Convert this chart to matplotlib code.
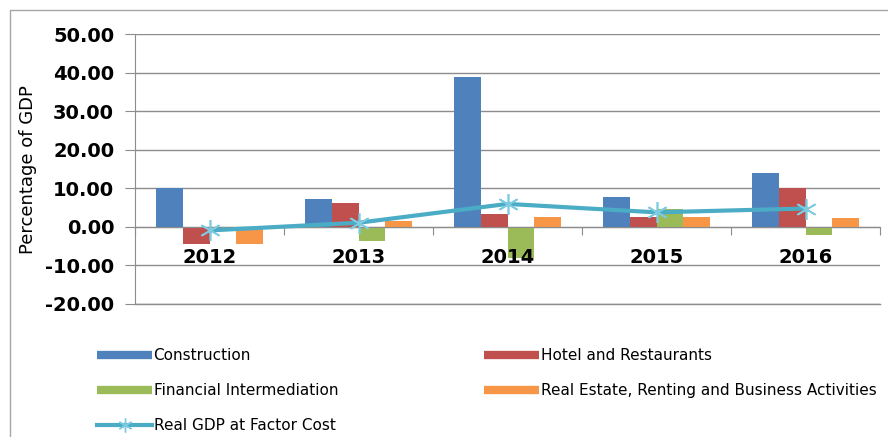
import matplotlib
matplotlib.use('Agg')
import matplotlib.pyplot as plt
from matplotlib.lines import Line2D
import numpy as np

years = ["2012", "2013", "2014", "2015", "2016"]
construction = [10.0, 7.1, 38.9, 7.8, 14.0]
hotel = [-4.5, 6.1, 3.2, 2.4, 10.0]
financial = [-1.2, -3.8, -8.2, 4.7, -2.1]
real_estate = [-4.5, 1.4, 2.4, 2.4, 2.2]
gdp = [-1.0, 1.0, 5.9, 3.7, 4.7]

series = [
    ("Construction", construction, "#4F81BD"),
    ("Hotel and Restaurants", hotel, "#C0504D"),
    ("Financial Intermediation", financial, "#9BBB59"),
    ("Real Estate, Renting and Business Activities", real_estate, "#F79646"),
]
line_color = "#4BACC6"
grid_color = "#8C8C8C"

fig = plt.figure(figsize=(8.88, 4.37), dpi=100)
ax = fig.add_axes([135/888, 1-303.5/437, 745/888, (303.5-34.3)/437])

x = np.arange(len(years))
w = 0.181
for i, (name, vals, col) in enumerate(series):
    ax.bar(x + (i - 1.5) * w, vals, w, color=col, zorder=2)

ax.plot(x, gdp, color=line_color, lw=3, marker=(6, 2, 0), markersize=15,
        markeredgewidth=1.2, markeredgecolor="#7CCBE0", zorder=3)

ax.set_ylim(-20, 50)
ax.set_xlim(-0.5, 4.5)
ax.set_yticks(np.arange(-20, 51, 10))
ax.set_yticklabels(["%.2f" % v for v in np.arange(-20, 51, 10)],
                   fontsize=14, fontweight='bold')
ax.yaxis.grid(True, color=grid_color, lw=1)
ax.axhline(-20, color=grid_color, lw=1, clip_on=False, zorder=1)
ax.set_axisbelow(True)

# category axis sits on zero
ax.spines['bottom'].set_position(('data', 0))
ax.spines['bottom'].set_color(grid_color)
ax.spines['left'].set_color(grid_color)
ax.spines['top'].set_visible(False)
ax.spines['right'].set_visible(False)
ax.set_xticks(np.arange(-0.5, 5, 1))
ax.set_xticklabels([])
ax.tick_params(axis='x', which='major', length=6, color=grid_color, direction='out')
ax.tick_params(axis='y', length=7, color=grid_color, pad=8)

# year labels drawn above the bars, next to the zero line
for xi, yr in zip(x, years):
    ax.annotate(yr, (xi, 0), xytext=(0, -22.5), textcoords='offset points',
                ha='center', va='center', fontsize=14, fontweight='bold', zorder=5)

fig.text(28/888, 1-170/437, "Percentage of GDP", rotation=90, fontsize=13,
         ha='center', va='center')

# chart border
fig.add_artist(Line2D([10/888, 10/888, 1], [0, 1-10/437, 1-10/437],
                      transform=fig.transFigure, color="#A6A6A6", lw=1))

handles = [Line2D([], [], color=c, lw=6, solid_capstyle='butt') for _, _, c in series]
gdp_handle = Line2D([], [], color=line_color, lw=3, marker=(6, 2, 0), markersize=10,
                    markeredgecolor="#7CCBE0", markeredgewidth=1)
lfont = {'family': 'DejaVu Sans', 'size': 11}
fig.legend([handles[0], handles[2], gdp_handle],
           [series[0][0], series[2][0], "Real GDP at Factor Cost"],
           loc='upper left', bbox_to_anchor=(97/888, 1-348/437),
           frameon=False, prop=lfont, handlelength=3.6, handletextpad=0.1,
           labelspacing=1.32, borderpad=0, borderaxespad=0)
fig.legend([handles[1], handles[3]], [series[1][0], series[3][0]],
           loc='upper left', bbox_to_anchor=(484/888, 1-348/437),
           frameon=False, prop=lfont, handlelength=3.6, handletextpad=0.1,
           labelspacing=1.32, borderpad=0, borderaxespad=0)

fig.savefig("out.png", dpi=100)
